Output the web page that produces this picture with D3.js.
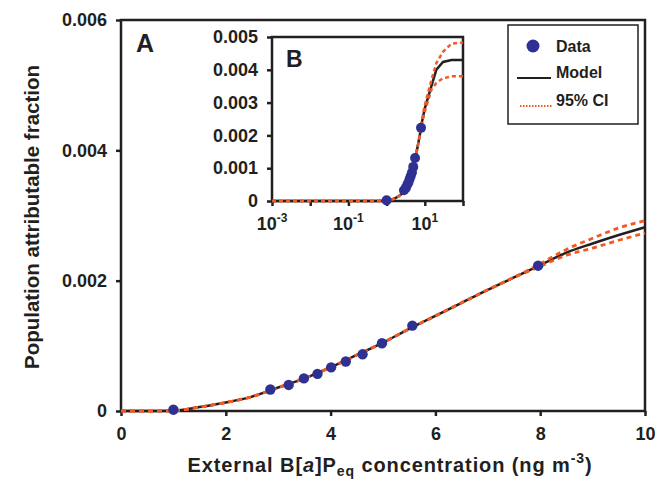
<!DOCTYPE html>
<html>
<head>
<meta charset="utf-8">
<script src="https://cdn.jsdelivr.net/npm/d3@7"></script>
<style>
  html, body { margin: 0; padding: 0; background: #fff; }
  svg { display: block; font-family: "Liberation Sans", Arial, sans-serif; }
  .tick text { font-weight: bold; fill: #231f20; }
</style>
</head>
<body>
<svg id="chart" width="658" height="482"></svg>
<script>
// Observed population attributable fraction vs. external B[a]Peq concentration
const dataX = [1.0, 2.85, 3.2, 3.49, 3.75, 4.01, 4.29, 4.61, 4.98, 5.56, 7.96];
const dataY = [0.00002, 0.00033, 0.0004, 0.0005, 0.00057, 0.00067, 0.00076, 0.00087, 0.00104, 0.00131, 0.00223];

// Fitted model curve and its 95% confidence band
const modelX = [0, 0.001, 0.01, 0.1, 0.5, 1, 1.5, 2, 2.5, 3, 3.5, 4, 4.5, 5, 5.5, 6, 6.5, 7, 7.5, 8, 8.5, 9, 9.5, 10, 15, 20, 30, 50, 100];
const modelY = [0, 0, 0, 0, 0, 0.000005, 0.00006, 0.00013, 0.00022, 0.00036, 0.0005, 0.00067, 0.00086, 0.00105, 0.00126, 0.00146, 0.00166, 0.00186, 0.00205, 0.00224, 0.00243, 0.00257, 0.0027, 0.00282, 0.00352, 0.004, 0.00424, 0.0043, 0.0043];
const upperY = [0, 0, 0, 0, 0, 0.000005, 0.00006, 0.00013, 0.00022, 0.00036, 0.0005, 0.00067, 0.00086, 0.00105, 0.00126, 0.00146, 0.00166, 0.00186, 0.00205, 0.00226, 0.00248, 0.00265, 0.00281, 0.00292, 0.0037, 0.0042, 0.00455, 0.0048, 0.00483];
const lowerY = [0, 0, 0, 0, 0, 0.000005, 0.00006, 0.00013, 0.00022, 0.00036, 0.0005, 0.00067, 0.00086, 0.00105, 0.00126, 0.00146, 0.00166, 0.00186, 0.00205, 0.00222, 0.00239, 0.0025, 0.00262, 0.00273, 0.0034, 0.0036, 0.00374, 0.0038, 0.0038];

// Tick values
const mainXTicks = [0, 2, 4, 6, 8, 10];
const mainYTicks = [0, 0.002, 0.004, 0.006];
const insetXTicks = [0.001, 0.01, 0.1, 1, 10, 100];
const insetXLabels = [0.001, 0.1, 10];
const insetYTicks = [0, 0.001, 0.002, 0.003, 0.004, 0.005];

const INK = "#231f20", BLUE = "#2e3192", ORANGE = "#f15a24";

const svg = d3.select("#chart");
const points = dataX.map((x, i) => ({x, y: dataY[i]}));
const model = modelX.map((x, i) => ({x, m: modelY[i], u: upperY[i], l: lowerY[i]}));
const fmtY = d => d === 0 ? "0" : d3.format(".3f")(d);

// ---------- Main panel (A) ----------
const x = d3.scaleLinear().domain([0, 10]).range([121, 645]);
const y = d3.scaleLinear().domain([0, 0.006]).range([411, 20]);

const gx = svg.append("g").attr("transform", `translate(0,${y(0)})`)
  .call(d3.axisBottom(x).tickValues(mainXTicks).tickSizeInner(5).tickSizeOuter(0).tickPadding(11).tickFormat(d3.format("d")));
const gy = svg.append("g").attr("transform", `translate(${x(0)},0)`)
  .call(d3.axisLeft(y).tickValues(mainYTicks).tickSizeInner(5).tickSizeOuter(0).tickPadding(9).tickFormat(fmtY));
[gx, gy].forEach(g => {
  g.selectAll("path.domain").remove();
  g.selectAll(".tick line").attr("stroke", INK).attr("stroke-width", 2.5);
  g.selectAll(".tick text").attr("font-size", 18);
});

svg.append("rect").attr("x", x(0)).attr("y", y(0.006))
  .attr("width", x(10) - x(0)).attr("height", y(0) - y(0.006))
  .attr("fill", "none").attr("stroke", INK).attr("stroke-width", 2.5);

const mainModel = model.filter(d => d.x <= 10);
const lineM = k => d3.line().x(d => x(d.x)).y(d => y(d[k])).curve(d3.curveMonotoneX);

svg.append("path").datum(mainModel).attr("d", lineM("m"))
  .attr("fill", "none").attr("stroke", INK).attr("stroke-width", 2.5);
["u", "l"].forEach(k => svg.append("path").datum(mainModel).attr("d", lineM(k))
  .attr("fill", "none").attr("stroke", ORANGE).attr("stroke-width", 2.8).attr("stroke-dasharray", "5,4"));

svg.append("g").selectAll("circle").data(points).join("circle")
  .attr("cx", d => x(d.x)).attr("cy", d => y(d.y)).attr("r", 5.2).attr("fill", BLUE);

svg.append("text").attr("x", 136).attr("y", 52).text("A")
  .attr("font-size", 25).attr("font-weight", "bold").attr("fill", INK);

// Axis titles
svg.append("text").attr("transform", `translate(39,217) rotate(-90)`)
  .attr("text-anchor", "middle").attr("font-size", 20.5).attr("font-weight", "bold").attr("fill", INK)
  .text("Population attributable fraction");

const xt = svg.append("text").attr("x", 390).attr("y", 472).attr("text-anchor", "middle")
  .attr("font-size", 20).attr("font-weight", "bold").attr("letter-spacing", 0.9).attr("fill", INK);
xt.append("tspan").text("External B[");
xt.append("tspan").attr("font-style", "italic").text("a");
xt.append("tspan").text("]P");
xt.append("tspan").attr("font-size", 14).attr("dy", 4).text("eq");
xt.append("tspan").attr("dy", -4).text(" concentration (ng m");
xt.append("tspan").attr("font-size", 14).attr("dy", -9).text("-3");
xt.append("tspan").attr("dy", 9).text(")");

// ---------- Legend ----------
const lg = svg.append("g");
lg.append("rect").attr("x", 508).attr("y", 25).attr("width", 130).attr("height", 99)
  .attr("fill", "#fff").attr("stroke", INK).attr("stroke-width", 1.5);
lg.append("circle").attr("cx", 533).attr("cy", 46).attr("r", 6.5).attr("fill", BLUE);
lg.append("line").attr("x1", 517).attr("x2", 551).attr("y1", 78).attr("y2", 78)
  .attr("stroke", INK).attr("stroke-width", 2);
lg.append("line").attr("x1", 520).attr("x2", 552).attr("y1", 106).attr("y2", 106)
  .attr("stroke", ORANGE).attr("stroke-width", 2).attr("stroke-dasharray", "1.5,1.5");
[["Data", 52], ["Model", 78], ["95% CI", 106]].forEach(([t, yy]) =>
  lg.append("text").attr("x", 556).attr("y", yy).text(t)
    .attr("font-size", 16).attr("font-weight", "bold").attr("fill", INK));

// ---------- Inset panel (B), log concentration axis ----------
const xi = d3.scaleLog().domain([0.001, 100]).range([272, 463]);
const yi = d3.scaleLinear().domain([0, 0.005]).range([201, 37]);

svg.append("rect").attr("x", xi(0.001)).attr("y", yi(0.005))
  .attr("width", xi(100) - xi(0.001)).attr("height", yi(0) - yi(0.005))
  .attr("fill", "#fff").attr("stroke", INK).attr("stroke-width", 2.5);

const gxi = svg.append("g").attr("transform", `translate(0,${yi(0)})`)
  .call(d3.axisBottom(xi).tickValues(insetXTicks).tickSizeInner(5).tickSizeOuter(0).tickFormat(() => ""));
const gyi = svg.append("g").attr("transform", `translate(${xi(0.001)},0)`)
  .call(d3.axisLeft(yi).tickValues(insetYTicks).tickSizeInner(5).tickSizeOuter(0).tickPadding(9).tickFormat(fmtY));
[gxi, gyi].forEach(g => {
  g.selectAll("path.domain").remove();
  g.selectAll(".tick line").attr("stroke", INK).attr("stroke-width", 2.5);
  g.selectAll(".tick text").attr("font-size", 18);
});

// Power-of-ten labels on the log axis
svg.append("g").selectAll("text").data(insetXLabels).join("text")
  .attr("x", d => xi(d)).attr("y", 230).attr("text-anchor", "middle")
  .attr("font-size", 18).attr("font-weight", "bold").attr("fill", INK)
  .each(function(d) {
    const t = d3.select(this);
    t.append("tspan").text("10");
    t.append("tspan").attr("font-size", 12).attr("dy", -8).text(Math.round(Math.log10(d)));
  });

const insetModel = model.filter(d => d.x >= 0.001);
const lineI = k => d3.line().x(d => xi(d.x)).y(d => yi(d[k]));
svg.append("path").datum(insetModel).attr("d", lineI("m"))
  .attr("fill", "none").attr("stroke", INK).attr("stroke-width", 2.5);
["u", "l"].forEach(k => svg.append("path").datum(insetModel).attr("d", lineI(k))
  .attr("fill", "none").attr("stroke", ORANGE).attr("stroke-width", 2.5).attr("stroke-dasharray", "4,3"));

svg.append("g").selectAll("circle").data(points).join("circle")
  .attr("cx", d => xi(d.x)).attr("cy", d => yi(d.y)).attr("r", 5).attr("fill", BLUE);

svg.append("text").attr("x", 286).attr("y", 67).text("B")
  .attr("font-size", 23).attr("font-weight", "bold").attr("fill", INK);
</script>
</body>
</html>
